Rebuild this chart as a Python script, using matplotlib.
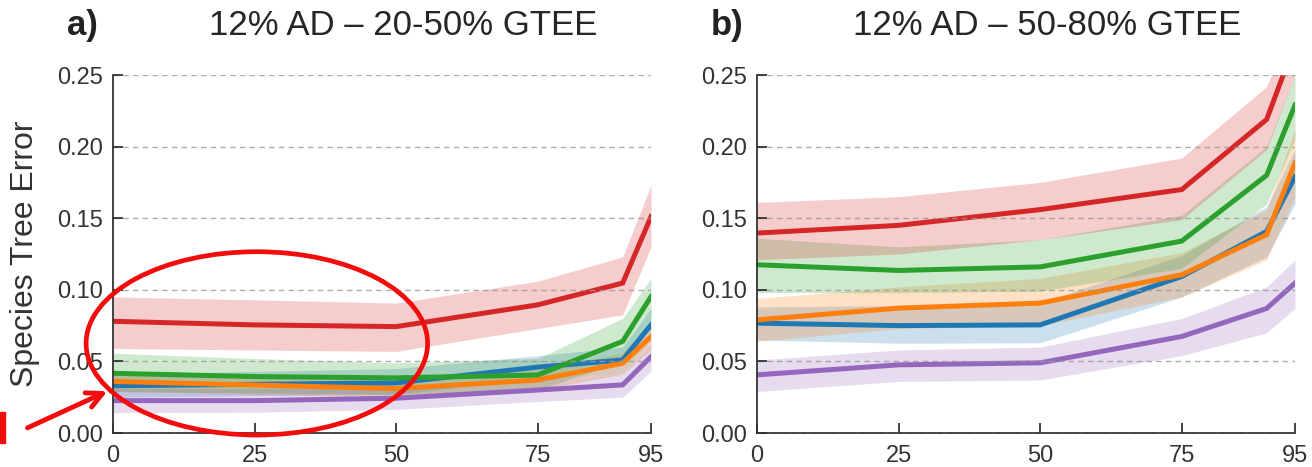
import matplotlib
matplotlib.use("Agg")
import matplotlib.pyplot as plt
from matplotlib.patches import Ellipse, Rectangle
from matplotlib.ticker import FormatStrFormatter

plt.rcParams["font.family"] = ["Liberation Sans", "DejaVu Sans"]

# DATA
x = [0, 25, 50, 75, 90, 95]
xticks = [0, 25, 50, 75, 95]
yticks = [0.0, 0.05, 0.10, 0.15, 0.20, 0.25]

# panel a : 20-50% GTEE
blue_a = [0.033, 0.034, 0.035, 0.046, 0.051, 0.0755]
blue_a_lo = [0.025, 0.026, 0.027, 0.038, 0.042, 0.064]
blue_a_hi = [0.041, 0.043, 0.045, 0.054, 0.060, 0.087]
orange_a = [0.036, 0.0335, 0.031, 0.037, 0.0487, 0.0673]
orange_a_lo = [0.029, 0.027, 0.025, 0.030, 0.041, 0.058]
orange_a_hi = [0.043, 0.040, 0.037, 0.044, 0.056, 0.077]
green_a = [0.0417, 0.0394, 0.0385, 0.0405, 0.064, 0.0953]
green_a_lo = [0.029, 0.028, 0.027, 0.030, 0.050, 0.080]
green_a_hi = [0.0557, 0.052, 0.049, 0.052, 0.080, 0.108]
red_a = [0.078, 0.0755, 0.0743, 0.0895, 0.1047, 0.151]
red_a_lo = [0.059, 0.058, 0.057, 0.073, 0.0825, 0.130]
red_a_hi = [0.095, 0.093, 0.0907, 0.106, 0.123, 0.173]
purple_a = [0.0226, 0.0226, 0.0243, 0.030, 0.0336, 0.0533]
purple_a_lo = [0.0142, 0.0145, 0.0165, 0.022, 0.025, 0.043]
purple_a_hi = [0.031, 0.031, 0.032, 0.038, 0.042, 0.063]

# panel b : 50-80% GTEE
blue_b = [0.0767, 0.075, 0.0755, 0.1093, 0.1408, 0.179]
blue_b_lo = [0.065, 0.0627, 0.063, 0.095, 0.123, 0.160]
blue_b_hi = [0.088, 0.089, 0.091, 0.124, 0.158, 0.198]
orange_b = [0.079, 0.0872, 0.0907, 0.1105, 0.1385, 0.1886]
orange_b_lo = [0.064, 0.073, 0.075, 0.095, 0.121, 0.165]
orange_b_hi = [0.094, 0.102, 0.108, 0.126, 0.156, 0.212]
green_b = [0.1175, 0.1135, 0.116, 0.134, 0.180, 0.229]
green_b_lo = [0.098, 0.098, 0.099, 0.115, 0.160, 0.205]
green_b_hi = [0.136, 0.130, 0.135, 0.152, 0.200, 0.250]
red_b = [0.1396, 0.145, 0.156, 0.170, 0.219, 0.272]
red_b_lo = [0.121, 0.125, 0.135, 0.149, 0.198, 0.250]
red_b_hi = [0.161, 0.165, 0.175, 0.192, 0.242, 0.290]
purple_b = [0.0406, 0.0476, 0.049, 0.0674, 0.087, 0.1047]
purple_b_lo = [0.029, 0.036, 0.037, 0.054, 0.070, 0.087]
purple_b_hi = [0.051, 0.058, 0.060, 0.080, 0.102, 0.121]

colors = ["#1f77b4", "#ff7f0e", "#2ca02c", "#d62728", "#9467bd"]

panels = [
    ("a)", "12% AD \u2013 20-50% GTEE",
     [(blue_a, blue_a_lo, blue_a_hi), (orange_a, orange_a_lo, orange_a_hi),
      (green_a, green_a_lo, green_a_hi), (red_a, red_a_lo, red_a_hi),
      (purple_a, purple_a_lo, purple_a_hi)]),
    ("b)", "12% AD \u2013 50-80% GTEE",
     [(blue_b, blue_b_lo, blue_b_hi), (orange_b, orange_b_lo, orange_b_hi),
      (green_b, green_b_lo, green_b_hi), (red_b, red_b_lo, red_b_hi),
      (purple_b, purple_b_lo, purple_b_hi)]),
]

fig = plt.figure(figsize=(13.12, 4.67), dpi=100)
lefts = [113 / 1312, 757 / 1312]
axes = []
for i, (tag, title, series) in enumerate(panels):
    ax = fig.add_axes([lefts[i], 34 / 467, 538 / 1312, 358 / 467])
    axes.append(ax)
    for (mid, lo, hi), c in zip(series, colors):
        ax.fill_between(x, lo, hi, color=c, alpha=0.23, lw=0)
        ax.plot(x, mid, color=c, lw=3.6, solid_joinstyle="miter")
    ax.set_xlim(0, 95)
    ax.set_ylim(0, 0.25)
    ax.set_xticks(xticks)
    ax.set_yticks(yticks)
    ax.yaxis.set_major_formatter(FormatStrFormatter("%.2f"))
    # grid sits on top of the bands, like the original
    ax.yaxis.grid(True, linestyle=(0, (4, 3)), color="#999999", lw=1, alpha=0.8)
    ax.set_axisbelow(False)
    for s in ["top", "right"]:
        ax.spines[s].set_visible(False)
    for s in ["left", "bottom"]:
        ax.spines[s].set_color("#333333")
        ax.spines[s].set_linewidth(1.3)
    ax.tick_params(direction="in", length=7, width=1.3, color="#333333",
                   labelsize=17, labelcolor="#333333")
    ax.tick_params(axis="y", pad=7)
    ax.tick_params(axis="x", pad=9)
    ax.text(0.54, 1.112, title, transform=ax.transAxes, ha="center",
            va="baseline", fontsize=25, color="#262626")
    ax.text(-0.086, 1.112, tag, transform=ax.transAxes, ha="left",
            va="baseline", fontsize=25, fontweight="bold", color="#222222")

axes[0].set_ylabel("Species Tree Error", fontsize=23, color="#333333")
axes[0].yaxis.set_label_coords(-0.135, 0.5)

# RED ANNOTATION
red = "#f20d0d"
axes[0].add_patch(Ellipse((25.4, 0.0626), 60.3, 0.128, fill=False,
                          edgecolor=red, lw=3.4, clip_on=False, zorder=10))
axes[0].annotate("", xy=(110, 77), xytext=(25, 38),
                 xycoords="figure pixels", textcoords="figure pixels",
                 arrowprops=dict(arrowstyle="->", color=red, lw=3.5,
                                 mutation_scale=28),
                 annotation_clip=False)
fig.add_artist(Rectangle((0, 24 / 467), 5 / 1312, 31 / 467,
                         transform=fig.transFigure, color=red))

plt.savefig("out.png", dpi=100)
